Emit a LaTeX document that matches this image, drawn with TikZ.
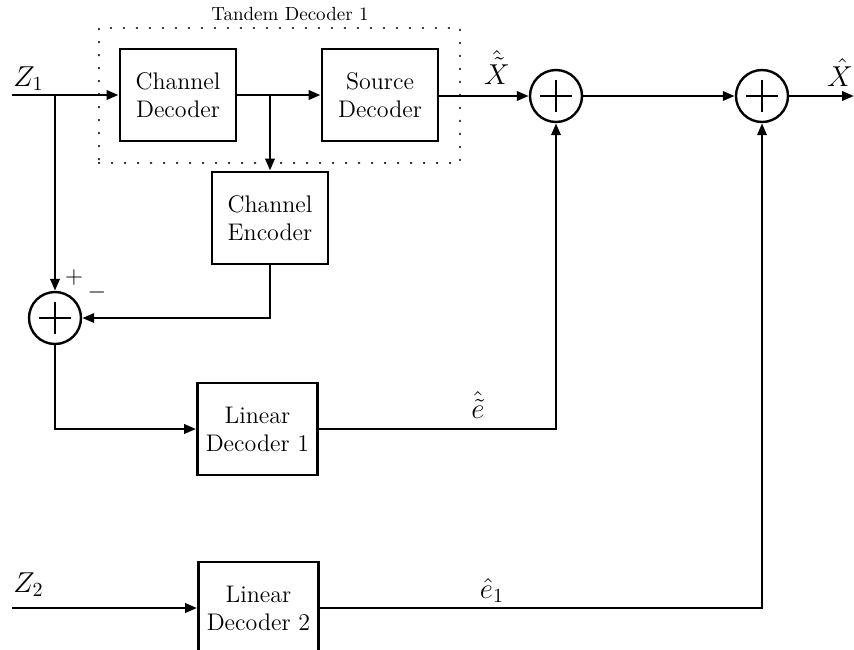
\documentclass[tikz,border=0pt]{standalone}
\usetikzlibrary{arrows.meta}
\begin{document}
\begin{tikzpicture}[x=0.5pt,y=-0.5pt,
  line width=1.4pt,
  arr/.style={-{Triangle[length=6pt,width=4.6pt]}},
  blk/.style={draw,line width=1.4pt,minimum width=58pt,minimum height=46pt,inner sep=0pt,align=center,font=\large,text depth=0pt},
  sumnode/.style={draw,circle,line width=1.2pt,minimum size=26pt,inner sep=0pt,
    path picture={\draw[line width=1.4pt] ([xshift=-8pt]path picture bounding box.center) -- ([xshift=8pt]path picture bounding box.center)
      ([yshift=-8pt]path picture bounding box.center) -- ([yshift=8pt]path picture bounding box.center);}},
  lbl/.style={font=\Large},
  dotbox/.style={draw,line width=1.1pt,dash pattern=on 0.1pt off 6.4pt,line cap=round}
]
\useasboundingbox (0,0) rectangle (854,649);

% dotted tandem decoder frame
\node[dotbox,minimum width=180.5pt,minimum height=67.5pt,inner sep=0pt] (tandem) at (279.5,95.5) {};
\node[font=\fontsize{9.5}{11}\selectfont,anchor=base] (tlabel) at (290,20) {Tandem Decoder 1};

% blocks
\node[blk] (cd) at (178,95) {Channel\\Decoder};
\node[blk] (sd) at (380,95) {Source\\Decoder};
\node[blk] (ce) at (270,218) {Channel\\Encoder};
\node[blk,minimum width=60pt] (ld1) at (257.5,429) {Linear\\Decoder 1};
\node[blk,minimum width=60pt] (ld2) at (258.5,608) {Linear\\Decoder 2};

% summing junctions
\node[sumnode] (s0) at (55,318) {};
\node[sumnode] (s1) at (556,96) {};
\node[sumnode] (s2) at (762,96) {};

% inputs / outputs
\coordinate (z1) at (12,95);
\coordinate (z2) at (12,608);
\coordinate (br1) at (55,95);
\coordinate (xout) at (854,96);

% labels
\node[lbl,anchor=base west,inner sep=0pt] (z1l) at (12,86) {$Z_1$};
\node[lbl,anchor=base west,inner sep=0pt] (z2l) at (12,592) {$Z_2$};
\node[lbl,anchor=base,inner sep=0pt] (xtl) at (497,84) {$\hat{\tilde{X}}$};
\node[lbl,anchor=base,inner sep=0pt] (xl) at (840,86) {$\hat{X}$};
\node[lbl,anchor=base,inner sep=0pt] (el) at (478,418) {$\hat{\tilde{e}}$};
\node[lbl,anchor=base,inner sep=0pt] (e1l) at (492,598) {$\hat{e}_1$};
\node[font=\large,inner sep=0pt] (plus) at (74,277) {$+$};
\node[font=\large,inner sep=0pt] (minus) at (97,292) {$-$};

% connectors
\draw[arr] (z1) -- (cd.west);
\draw[arr] (br1) -- (s0.north);
\draw[arr] (cd.east) -- (sd.west);
\draw[arr] (ce.north |- cd.east) -- (ce.north);
\draw[arr] (sd.east |- s1.west) -- (s1.west);
\draw[arr] (s1.east) -- (s2.west);
\draw[arr] (s2.east) -- (xout);
\draw[arr] (ce.south) |- (s0.east);
\draw[arr] (s0.south) |- (ld1.west);
\draw[arr] (ld1.east) -| (s1.south);
\draw[arr] (z2) -- (ld2.west);
\draw[arr] (ld2.east) -| (s2.south);
\end{tikzpicture}
\end{document}
